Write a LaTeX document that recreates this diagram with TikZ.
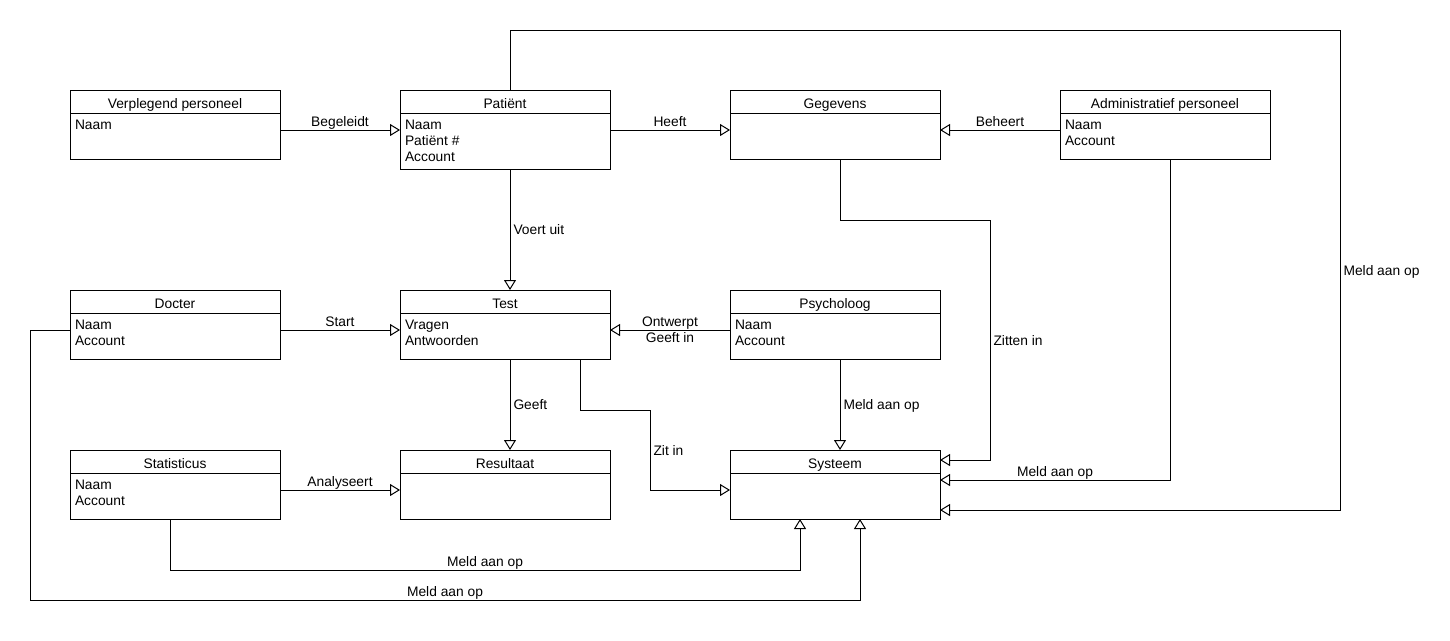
\documentclass[tikz,border=0pt]{standalone}
\usepackage{fontspec}
\setmainfont{Liberation Sans}
\usepackage{tikz}
\usetikzlibrary{positioning, arrows.meta}
\tikzset{
>={Triangle[open, length=10pt, width=12pt]}, % hollow UML heads
node distance=120pt, % gap between two columns of classes
every node/.style={font=\fontsize{13.8}{16}\selectfont},
head/.style={draw, line width=1pt, outer sep=0pt, inner sep=0pt, minimum width=210pt, minimum height=23pt, text height=13pt, text depth=0pt}, % class name
attr/.style={draw, line width=1pt, outer sep=0pt, inner xsep=5pt, inner ysep=0pt, below=0pt of #1}, % attributes under the name
link/.style={->, line width=1pt}, % connectors
lbl/.style={inner sep=3pt, text depth=0pt}, % connector texts
}
\newcommand{\attrs}[2][46pt]{\parbox[c][#1][t]{200pt}{\vspace*{5pt}\strut#2}}

\begin{document}
\begin{tikzpicture}[x=1pt, y=-1pt]
\useasboundingbox (0,0) rectangle (1450,640);
% top row
\node[head] (vp) at (175,101.5) {Verplegend personeel};
\node[attr=vp] (vp-a) {\attrs{Naam}};
\node[head, right=of vp] (pat) {Patiënt};
\node[attr=pat] (pat-a) {\attrs[56pt]{Naam\\Patiënt \#\\Account}};
\node[head, right=of pat] (geg) {Gegevens};
\node[attr=geg] (geg-a) {\attrs{}};
\node[head, right=of geg] (adm) {Administratief personeel};
\node[attr=adm] (adm-a) {\attrs{Naam\\Account}};
% middle row
\node[head, below=131pt of vp-a] (doc) {Docter};
\node[attr=doc] (doc-a) {\attrs{Naam\\Account}};
\node[head, right=of doc] (test) {Test};
\node[attr=test] (test-a) {\attrs{Vragen\\Antwoorden}};
\node[head, right=of test] (psy) {Psycholoog};
\node[attr=psy] (psy-a) {\attrs{Naam\\Account}};
% bottom row
\node[head, below=91pt of doc-a] (stat) {Statisticus};
\node[attr=stat] (stat-a) {\attrs{Naam\\Account}};
\node[head, right=of stat] (res) {Resultaat};
\node[attr=res] (res-a) {\attrs{}};
\node[head, right=of res] (sys) {Systeem};
\node[attr=sys] (sys-a) {\attrs{}};

\draw[line width=1pt]
([yshift=-17pt]vp-a.north east) edge[link, above] node[lbl]{Begeleidt} ([yshift=-17pt]pat-a.north west)
([yshift=-17pt]pat-a.north east) edge[link, above] node[lbl]{Heeft} ([yshift=-17pt]geg-a.north west)
([yshift=-17pt]adm-a.north west) edge[link, above] node[lbl]{Beheert} ([yshift=-17pt]geg-a.north east)
([xshift=5pt]pat-a.south) edge[link, right] node[lbl]{Voert uit} ([xshift=5pt]test.north)
([yshift=-17pt]doc-a.north east) edge[link, above] node[lbl]{Start} ([yshift=-17pt]test-a.north west)
([yshift=-17pt]psy-a.north west) edge[link] node[align=center, inner sep=0pt]{Ontwerpt\\Geeft in} ([yshift=-17pt]test-a.north east)
([xshift=5pt]test-a.south) edge[link, right] node[lbl]{Geeft} ([xshift=5pt]res.north)
([xshift=5pt]psy-a.south) edge[link, right] node[lbl]{Meld aan op} ([xshift=5pt]sys.north)
([yshift=-17pt]stat-a.north east) edge[link, above] node[lbl]{Analyseert} ([yshift=-17pt]res-a.north west)
;
% routed connectors
\draw[link] ([xshift=5pt]pat.north) -- ++(0,-60) -- ++(830,0) -- ++(0,480) node[lbl, midway, right]{Meld aan op} -- ([yshift=9pt]sys-a.south east);
\draw[link] ([xshift=75pt]test-a.south) -- ++(0,51) -- ++(70,0) -- ++(0,80) node[lbl, midway, right]{Zit in} -- ([yshift=-17pt]sys-a.north west);
\draw[link] ([xshift=5pt]geg-a.south) -- ++(0,61) -- ++(150,0) -- ++(0,240) node[lbl, midway, right]{Zitten in} -- ([yshift=-10pt]sys.north east);
\draw[link] ([xshift=5pt]adm-a.south) |- ([yshift=-7pt]sys-a.north east) node[lbl, pos=0.75, above]{Meld aan op};
\draw[link] ([xshift=-5pt]stat-a.south) -- ++(0,51) -| ([xshift=-35pt]sys-a.south) node[lbl, pos=0.25, above]{Meld aan op};
\draw[link] ([yshift=-17pt]doc-a.north west) -- ++(-40,0) -- ++(0,270) -| ([xshift=25pt]sys-a.south) node[lbl, pos=0.25, above]{Meld aan op};
\end{tikzpicture}
\end{document}
